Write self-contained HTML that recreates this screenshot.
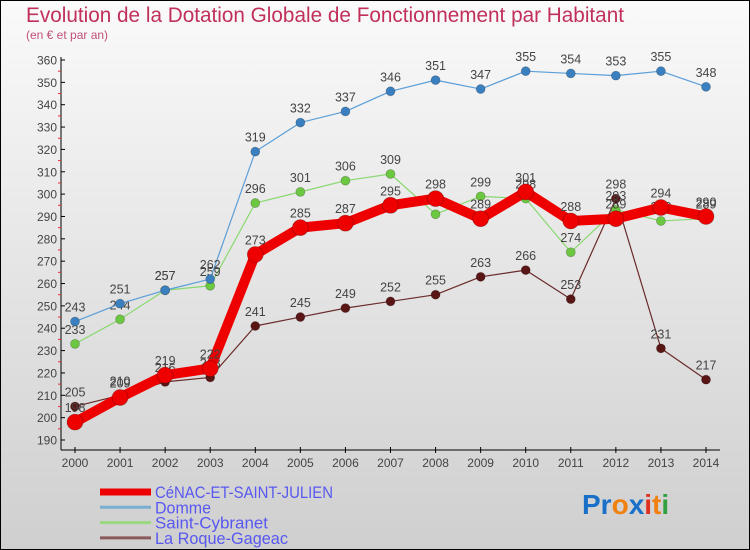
<!DOCTYPE html>
<html><head><meta charset="utf-8"><style>
html,body{margin:0;padding:0}
body{width:750px;height:550px;overflow:hidden;font-family:"Liberation Sans",sans-serif}
#wrap{position:relative;width:748px;height:548px;border:1px solid #000;background:linear-gradient(#fafafa,#cfcfcf)}
</style></head><body>
<div id="wrap">
<svg id="chart" width="748" height="548" viewBox="1 1 748 548" style="position:absolute;left:0;top:0">
<text x="26" y="22" font-size="21" fill="#c0305a" textLength="598" lengthAdjust="spacingAndGlyphs">Evolution de la Dotation Globale de Fonctionnement par Habitant</text>
<text x="26" y="39" font-size="12" fill="#c0507a">(en € et par an)</text>
<g id="axes"></g>
<g id="series"></g>
<g id="legend"></g>
<text x="582" y="514" font-size="28" font-weight="bold"><tspan fill="#1a70c8">Pr</tspan><tspan fill="#f08010">o</tspan><tspan fill="#1a70c8">x</tspan><tspan fill="#e03020">i</tspan><tspan fill="#f08010">t</tspan><tspan fill="#30a040">i</tspan></text>
</svg>
</div>
<script>
const years=[2000,2001,2002,2003,2004,2005,2006,2007,2008,2009,2010,2011,2012,2013,2014];
const yTicks=[190,200,210,220,230,240,250,260,270,280,290,300,310,320,330,340,350,360];
const cenac=[198,209,219,222,273,285,287,295,298,289,301,288,289,294,290];
const domme=[243,251,257,262,319,332,337,346,351,347,355,354,353,355,348];
const cybranet=[233,244,257,259,296,301,306,309,291,299,298,274,293,288,289];
const roque=[205,210,216,218,241,245,249,252,255,263,266,253,298,231,217];
const names=["CéNAC-ET-SAINT-JULIEN","Domme","Saint-Cybranet","La Roque-Gageac"];
const NS="http://www.w3.org/2000/svg";
const xs=i=>75+i*(706-75)/(years.length-1);
const ys=v=>440-(v-190)*(380/170);
function mk(tag,attrs,parent){const e=document.createElementNS(NS,tag);for(const k in attrs)e.setAttribute(k,attrs[k]);parent.appendChild(e);return e;}
const axes=document.getElementById('axes');
let ax=mk('line',{x1:61,y1:57,x2:61,y2:450,stroke:'#000','stroke-width':1},axes);


let bx=mk('line',{x1:61,y1:450,x2:720,y2:450,stroke:'#000','stroke-width':1},axes);


yTicks.forEach((v,i)=>{
  const y=ys(v);
  mk('line',{x1:61,y1:y,x2:65,y2:y,stroke:'#000'},axes);
  const t=mk('text',{x:57,y:y+4.5,'font-size':12,fill:'#444','text-anchor':'end'},axes);
  t.textContent=v;
  
  
  if(i<yTicks.length-1){const m=ys(v+5);mk('line',{x1:58,y1:m,x2:61,y2:m,stroke:'#e03030'},axes);}
});
years.forEach((yr,i)=>{
  const x=xs(i);
  mk('line',{x1:x,y1:447,x2:x,y2:453,stroke:'#000'},axes);
  const t=mk('text',{x:x,y:467,'font-size':12,fill:'#444','text-anchor':'middle'},axes);
  t.textContent=yr;
  
  
});
const sg=document.getElementById('series');
const defs=[[roque,'#6a2a2a','#5a1515',1.2,4.5,'series-la-roque-gageac'],[cybranet,'#8ad870','#6cc840',1.2,4.5,'series-saint-cybranet'],[domme,'#5a9ed8','#3a80c0',1.2,4.5,'series-domme'],[cenac,'#ee0000','#ee0000',10,8,'series-cenac']];
defs.forEach(([data,lc,pc,w,r,nm])=>{
  const g=mk('g',{},sg);
  
  
  mk('polyline',{points:data.map((v,i)=>xs(i)+','+ys(v)).join(' '),fill:'none',stroke:lc,'stroke-width':w,'stroke-linejoin':'round'},g);
  data.forEach((v,i)=>{
    const c=mk('circle',{cx:xs(i),cy:ys(v),r:r,fill:pc,stroke:'rgba(0,0,0,0.25)','stroke-width':0.8},g);
    
    
    const t=mk('text',{x:xs(i),y:ys(v)-10,'font-size':12.5,fill:'#444','text-anchor':'middle'},g);
    t.textContent=v;
    
    
  });
});
const lg=document.getElementById('legend');
const lcols=['#ee0000','#7aaed0','#98d880','#8a5a5a'];const lw=[7,3,3,3];
const lwid=[178,56,113,133];
names.forEach((n,i)=>{
  const y=492+i*15.3;
  const g=mk('g',{},lg);
  
  
  mk('line',{x1:100,y1:y,x2:151,y2:y,stroke:lcols[i],'stroke-width':lw[i]},g);
  const t=mk('text',{x:155,y:y+6,'font-size':17,fill:'#5858f0',textLength:lwid[i],lengthAdjust:'spacingAndGlyphs'},g);
  t.textContent=n;
});
</script>
</body></html>
